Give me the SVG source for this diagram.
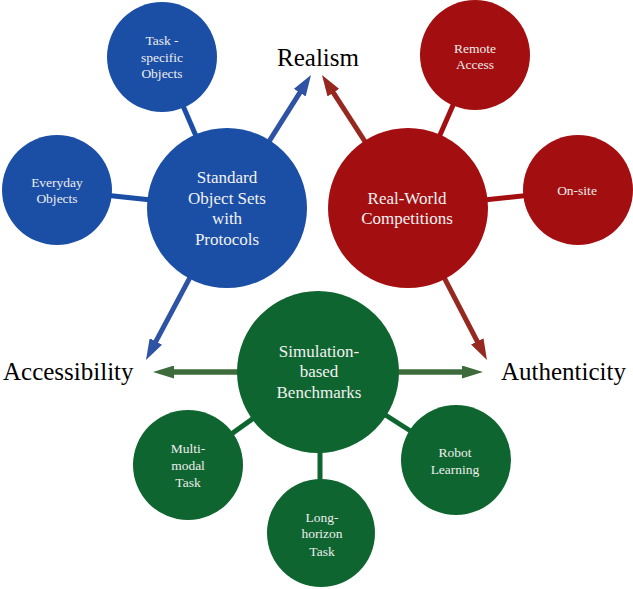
<svg xmlns="http://www.w3.org/2000/svg" width="633" height="589" viewBox="0 0 633 589">
<defs>
<style>
text{font-family:"Liberation Serif","Times New Roman",serif}
.big{font-size:17px;fill:#F2F2F2;text-anchor:middle}
.small{font-size:13.5px;fill:#EDEDED;text-anchor:middle}
.label{font-size:25px;fill:#000}
.blue{fill:#1B4FA6}
.red{fill:#A30F10}
.green{fill:#0F6530}
.lb{stroke:#1B4FA6;stroke-width:5}
.lr{stroke:#A30F10;stroke-width:5}
.lg{stroke:#0F6530;stroke-width:5}
.ab{stroke:#2E52A4;stroke-width:5;fill:none}
.ar{stroke:#962820;stroke-width:5;fill:none}
.ag{stroke:#3E6B3B;stroke-width:5.5;fill:none}
</style>
<marker id="mb" markerUnits="userSpaceOnUse" markerWidth="21" markerHeight="14" refX="7" refY="7" orient="auto"><path d="M0,0 L21,7 L0,14 z" fill="#2E52A4"/></marker>
<marker id="mr" markerUnits="userSpaceOnUse" markerWidth="21" markerHeight="14" refX="7" refY="7" orient="auto"><path d="M0,0 L21,7 L0,14 z" fill="#962820"/></marker>
<marker id="mg" markerUnits="userSpaceOnUse" markerWidth="21" markerHeight="13" refX="7" refY="6.5" orient="auto"><path d="M0,0 L21,6.5 L0,13 z" fill="#3E6B3B"/></marker>
</defs>
<rect width="633" height="589" fill="#FFFFFF"/>
<g id="connectors">
<line class="lb" x1="227" y1="208" x2="162" y2="57"/>
<line class="lb" x1="227" y1="208" x2="57" y2="190"/>
<line class="lr" x1="408" y1="208" x2="475" y2="55"/>
<line class="lr" x1="408" y1="208" x2="578" y2="190"/>
<line class="lg" x1="318" y1="372" x2="188" y2="465"/>
<line class="lg" x1="320" y1="372" x2="320" y2="533"/>
<line class="lg" x1="318" y1="372" x2="456" y2="460"/>
<line class="ab" x1="227" y1="208" x2="303.5" y2="86.8" marker-end="url(#mb)"/>
<line class="ar" x1="408" y1="208" x2="329.6" y2="86.8" marker-end="url(#mr)"/>
<line class="ab" x1="227" y1="208" x2="152.6" y2="347.6" marker-end="url(#mb)"/>
<line class="ar" x1="408" y1="208" x2="480.5" y2="347.6" marker-end="url(#mr)"/>
<line class="ag" x1="318" y1="372" x2="167" y2="372" marker-end="url(#mg)"/>
<line class="ag" x1="318" y1="372" x2="469" y2="372" marker-end="url(#mg)"/>
</g>
<g id="standard" font-family="Liberation Serif, serif">
<circle class="blue" cx="227" cy="208" r="80"/>
<text class="big" x="227" y="183">Standard</text>
<text class="big" x="227" y="204">Object Sets</text>
<text class="big" x="227" y="224">with</text>
<text class="big" x="227" y="245">Protocols</text>
</g>
<g id="task-specific">
<circle class="blue" cx="162" cy="57" r="55"/>
<text class="small" x="162" y="45">Task -</text>
<text class="small" x="162" y="62">specific</text>
<text class="small" x="162" y="78">Objects</text>
</g>
<g id="everyday">
<circle class="blue" cx="57" cy="190" r="55"/>
<text class="small" x="57" y="187">Everyday</text>
<text class="small" x="57" y="203">Objects</text>
</g>
<g id="realworld">
<circle class="red" cx="408" cy="208" r="80"/>
<text class="big" x="407" y="204">Real-World</text>
<text class="big" x="407" y="224">Competitions</text>
</g>
<g id="remote">
<circle class="red" cx="475" cy="55" r="55"/>
<text class="small" x="475" y="53">Remote</text>
<text class="small" x="475" y="69">Access</text>
</g>
<g id="onsite">
<circle class="red" cx="578" cy="190" r="55"/>
<text class="small" x="577" y="195">On-site</text>
</g>
<g id="simulation">
<circle class="green" cx="318" cy="372" r="81"/>
<text class="big" x="319" y="357">Simulation-</text>
<text class="big" x="319" y="377">based</text>
<text class="big" x="319" y="398">Benchmarks</text>
</g>
<g id="multimodal">
<circle class="green" cx="188" cy="465" r="55"/>
<text class="small" x="188" y="453">Multi-</text>
<text class="small" x="188" y="470">modal</text>
<text class="small" x="188" y="487">Task</text>
</g>
<g id="longhorizon">
<circle class="green" cx="321" cy="533" r="54"/>
<text class="small" x="322" y="522">Long-</text>
<text class="small" x="322" y="538">horizon</text>
<text class="small" x="322" y="556">Task</text>
</g>
<g id="robotlearning">
<circle class="green" cx="456" cy="460" r="55"/>
<text class="small" x="455" y="457">Robot</text>
<text class="small" x="455" y="474">Learning</text>
</g>
<g id="labels">
<text class="label" x="318" y="66" text-anchor="middle">Realism</text>
<text class="label" x="3" y="380">Accessibility</text>
<text class="label" x="501" y="380">Authenticity</text>
</g>
</svg>
